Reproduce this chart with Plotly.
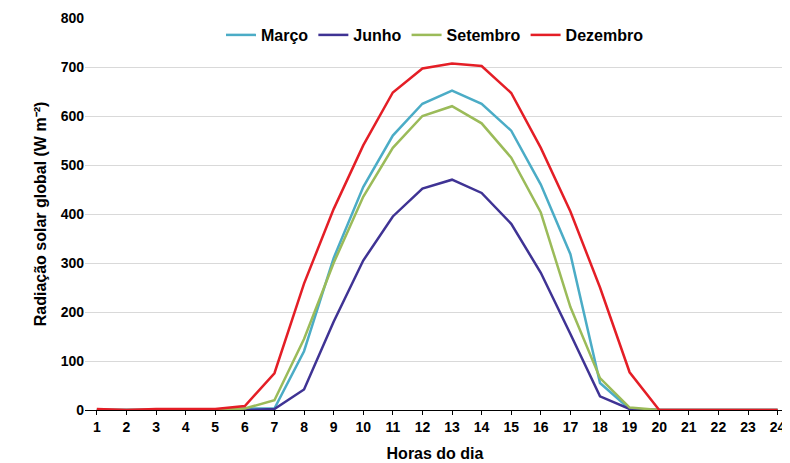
import plotly.graph_objects as go

hours = list(range(1, 25))
marco = [0,0,0,0,0,3,3,120,310,455,560,625,652,625,570,460,318,55,2,0,0,0,0,0]
junho = [0,0,0,0,0,0,2,42,180,305,395,452,470,443,380,280,155,28,2,0,0,0,0,0]
setembro = [0,0,0,0,0,3,20,145,300,435,535,600,620,585,515,403,210,65,5,0,0,0,0,0]
dezembro = [2,0,2,2,2,8,75,258,410,540,648,697,707,702,647,535,405,250,77,0,0,0,0,0]

series = [("Março", marco, "#4BACC6"), ("Junho", junho, "#3F3394"),
          ("Setembro", setembro, "#9BBB59"), ("Dezembro", dezembro, "#E41E26")]

fig = go.Figure()
for name, y, c in series:
    fig.add_trace(go.Scatter(x=hours, y=y, name=f"<b>{name}</b>", mode="lines",
                             line=dict(color=c, width=2.5)))

fam = "Liberation Sans, Arial"
fig.update_layout(
    width=782, height=455, plot_bgcolor="white", paper_bgcolor="white",
    margin=dict(l=77, r=5, t=10, b=53, autoexpand=False),
    font=dict(family=fam, size=14, color="#000"),
    legend=dict(orientation="h", x=0.5, xanchor="center", y=1.0, yanchor="top",
                font=dict(family=fam, size=16, color="#000"),
                bgcolor="rgba(0,0,0,0)"),
    xaxis=dict(title=dict(text="<b>Horas do dia</b>", standoff=14, font=dict(size=16)),
               range=[0.6, 24.25], ticklabeloverflow="allow",
               tickmode="array", tickvals=hours, ticktext=[f"<b>{h}</b>" for h in hours],
               showgrid=False, showline=True, linecolor="#000", ticks="outside",
               ticklen=4, tickcolor="#000", zeroline=False),
    yaxis=dict(title=dict(text="<b>Radiação solar global (W m⁻²)</b>", standoff=10, font=dict(size=16)),
               range=[0, 800], tickvals=list(range(0, 801, 100)),
               ticktext=[f"<b>{v}</b>" for v in range(0, 801, 100)],
               showgrid=True, gridcolor="#D9D9D9", zeroline=False, showline=False),
)
fig.write_html("out.html")
